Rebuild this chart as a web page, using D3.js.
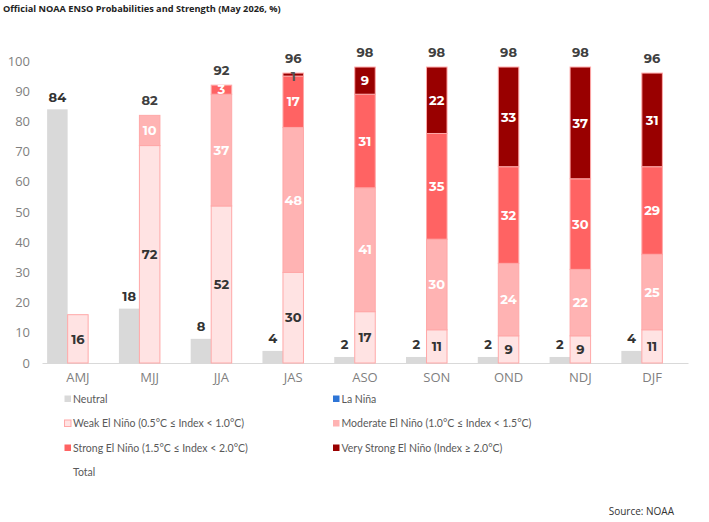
<!DOCTYPE html>
<html><head><meta charset="utf-8">
<script src="https://cdn.jsdelivr.net/npm/d3@7/dist/d3.min.js"></script>
<style>
body{margin:0;background:#fff;}
svg{display:block;font-family:"Montserrat","Open Sans",sans-serif;}
</style></head>
<body><svg id="c" width="709" height="522"></svg>
<script>
const categories = ["AMJ","MJJ","JJA","JAS","ASO","SON","OND","NDJ","DJF"];
const neutral    = [84,18,8,4,2,2,2,2,4];
const laNina     = [0,0,0,0,0,0,0,0,0];
const weak       = [16,72,52,30,17,11,9,9,11];
const moderate   = [0,10,37,48,41,30,24,22,25];
const strong     = [0,0,3,17,31,35,32,30,29];
const veryStrong = [0,0,0,1,9,22,33,37,31];
const total      = [16,82,92,96,98,98,98,98,96];
const yTicks     = [0,10,20,30,40,50,60,70,80,90,100];

const elNinoSeries = [
  {name:"Weak El Niño (0.5°C ≤ Index < 1.0°C)", values:weak, fill:"#ffe3e3", text:"#333333"},
  {name:"Moderate El Niño (1.0°C ≤ Index < 1.5°C)", values:moderate, fill:"#ffb3b3", text:"#ffffff"},
  {name:"Strong El Niño (1.5°C ≤ Index < 2.0°C)", values:strong, fill:"#ff6363", text:"#ffffff"},
  {name:"Very Strong El Niño (Index ≥ 2.0°C)", values:veryStrong, fill:"#990000", text:"#ffffff"}
];

const svg = d3.select("#c");
const x0 = d3.scaleBand().domain(categories).range([42,688]).padding(0);
const x1 = d3.scaleBand().domain(["Neutral","El Niño","La Niña"]).range([0,x0.bandwidth()]).paddingInner(0).paddingOuter(0.25);
const y = d3.scaleLinear().domain([0,100]).range([363,61]);

// title
svg.append("text").attr("x",3).attr("y",12).attr("font-size",9.2).attr("font-weight",700)
  .attr("fill","#222").attr("font-family","Open Sans, sans-serif")
  .text("Official NOAA ENSO Probabilities and Strength (May 2026, %)");

// y axis labels
const yAxis = d3.axisLeft(y).tickValues(yTicks).tickSize(0).tickPadding(0);
const gy = svg.append("g").attr("transform","translate(30,0)").call(yAxis);
gy.select(".domain").remove();
gy.selectAll("text").attr("fill","#7f7f7f").attr("font-size",13).attr("font-family","Open Sans, sans-serif");

// x axis
const xAxis = d3.axisBottom(x0).tickSize(0).tickPadding(10);
const gx = svg.append("g").attr("transform","translate(0,363)").call(xAxis);
gx.select(".domain").attr("stroke","#d9d9d9").attr("stroke-width",1.2);
gx.selectAll("text").attr("fill","#7f7f7f").attr("font-size",13).attr("font-family","Open Sans, sans-serif");

// neutral bars
const gN = svg.append("g");
categories.forEach((c,i)=>{
  const bx = x0(c)+x1("Neutral");
  gN.append("rect").attr("x",bx).attr("width",x1.bandwidth()).attr("y",y(neutral[i]))
    .attr("height",y(0)-y(neutral[i])).attr("fill","#d9d9d9");
  gN.append("text").attr("x",bx+x1.bandwidth()/2).attr("y",y(neutral[i])-7.5)
    .attr("text-anchor","middle").attr("font-size",13).attr("font-weight",700).attr("fill","#333")
    .text(neutral[i]);
  if(laNina[i]>0){
    const lx = x0(c)+x1("La Niña");
    gN.append("rect").attr("x",lx).attr("width",x1.bandwidth()).attr("y",y(laNina[i]))
      .attr("height",y(0)-y(laNina[i])).attr("fill","#2e75d6");
  }
});

// el nino stacks
const stackData = categories.map((c,i)=>{
  const o={cat:c};
  elNinoSeries.forEach(s=>o[s.name]=s.values[i]);
  return o;
});
const stacked = d3.stack().keys(elNinoSeries.map(s=>s.name))(stackData);
const gE = svg.append("g");
stacked.forEach((layer,li)=>{
  const s = elNinoSeries[li];
  layer.forEach((d,i)=>{
    const v = d[1]-d[0];
    if(v<=0) return;
    const bx = x0(d.data.cat)+x1("El Niño");
    gE.append("rect").attr("x",bx).attr("width",x1.bandwidth())
      .attr("y",y(d[1])).attr("height",y(d[0])-y(d[1]))
      .attr("fill",s.fill).attr("stroke","#ffa8a8").attr("stroke-width",1);
  });
});
stacked.forEach((layer,li)=>{
  const s = elNinoSeries[li];
  layer.forEach((d,i)=>{
    const v = d[1]-d[0];
    if(v<=0) return;
    const bx = x0(d.data.cat)+x1("El Niño");
    const h = y(d[0])-y(d[1]);
    gE.append("text").attr("x",bx+x1.bandwidth()/2).attr("y",(y(d[0])+y(d[1]))/2 + (h<6?1.5:0))
      .attr("dy","0.36em").attr("text-anchor","middle").attr("font-size",13).attr("font-weight",700)
      .attr("fill", h<6 ? "#555" : s.text).text(v);
  });
});
// totals
categories.forEach((c,i)=>{
  if(i===0) return;
  const bx = x0(c)+x1("El Niño");
  svg.append("text").attr("x",bx+x1.bandwidth()/2).attr("y",y(total[i])-10)
    .attr("text-anchor","middle").attr("font-size",13).attr("font-weight",700).attr("fill","#404040")
    .text(total[i]);
});

// legend
const legendItems = [
  {name:"Neutral", fill:"#d9d9d9", stroke:"none", col:0, row:0},
  {name:"La Niña", fill:"#2e75d6", stroke:"none", col:1, row:0},
  {name:elNinoSeries[0].name, fill:elNinoSeries[0].fill, stroke:"#ffa8a8", col:0, row:1},
  {name:elNinoSeries[1].name, fill:elNinoSeries[1].fill, stroke:"none", col:1, row:1},
  {name:elNinoSeries[2].name, fill:elNinoSeries[2].fill, stroke:"none", col:0, row:2},
  {name:elNinoSeries[3].name, fill:elNinoSeries[3].fill, stroke:"none", col:1, row:2},
  {name:"Total", fill:"none", stroke:"none", col:0, row:3}
];
const colX = [64.5, 333];
const rowY = [399, 423.5, 448, 472.5];
const gL = svg.append("g").attr("font-family","Lato, sans-serif");
legendItems.forEach(it=>{
  const lx = colX[it.col], ly = rowY[it.row];
  if(it.fill!=="none") gL.append("rect").attr("x",lx).attr("y",ly-3.5).attr("width",6.5).attr("height",6.5)
    .attr("fill",it.fill).attr("stroke",it.stroke).attr("stroke-width",it.stroke==="none"?0:1);
  gL.append("text").attr("x",lx+8.5).attr("y",ly).attr("dy","0.35em").attr("font-size",10.5)
    .attr("fill","#595959").text(it.name);
});

svg.append("text").attr("x",674).attr("y",515).attr("text-anchor","end").attr("font-size",10)
  .attr("fill","#333").attr("font-family","Open Sans, sans-serif").text("Source: NOAA");
</script></body></html>
